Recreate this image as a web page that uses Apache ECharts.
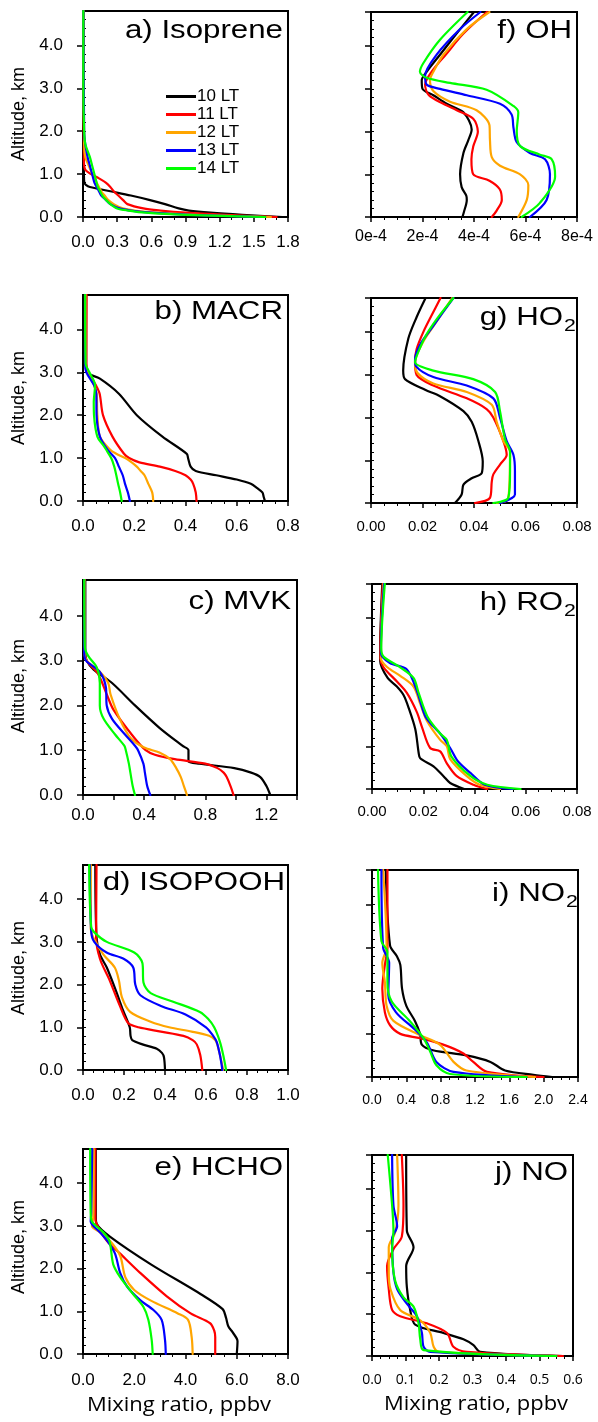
<!DOCTYPE html>
<html><head><meta charset="utf-8">
<script src="https://cdn.jsdelivr.net/npm/echarts@6/dist/echarts.min.js"></script>
<style>html,body{margin:0;padding:0;background:#fff}#c{width:598px;height:1422px}</style>
</head><body><div id="c"></div>
<script>
// ---------- DATA ----------
const seriesNames = ['10 LT', '11 LT', '12 LT', '13 LT', '14 LT'];
const seriesColors = ['#000000', '#ff0000', '#ffa500', '#0000ff', '#00ff00'];

// a) Isoprene (ppbv) — altitude (km) and mixing ratio per local time
const isopreneAlt = [
  [0, 0.05, 0.1, 0.15, 0.2, 0.3, 0.4, 0.5, 0.6, 0.7, 0.75, 0.8, 1.0, 2.0, 4.8],
  [0, 0.05, 0.1, 0.15, 0.2, 0.3, 0.4, 0.5, 0.6, 0.7, 0.8, 0.9, 1.0, 1.1, 1.3, 4.8],
  [0, 0.05, 0.1, 0.15, 0.2, 0.3, 0.4, 0.5, 0.6, 0.7, 0.8, 0.9, 1.0, 1.2, 1.4, 1.7, 4.8],
  [0, 0.05, 0.1, 0.15, 0.2, 0.3, 0.4, 0.5, 0.6, 0.7, 0.8, 0.9, 1.0, 1.2, 1.4, 1.7, 2.0, 4.8],
  [0, 0.05, 0.1, 0.15, 0.2, 0.3, 0.4, 0.5, 0.6, 0.7, 0.8, 0.9, 1.0, 1.2, 1.4, 1.7, 2.0, 3.0, 4.8]
];
const isopreneMix = [
  [1.75, 1.4, 1.12, 0.93, 0.84, 0.72, 0.58, 0.42, 0.24, 0.06, 0.025, 0.012, 0.008, 0.005, 0.003],
  [1.7, 1.25, 0.9, 0.68, 0.53, 0.39, 0.35, 0.31, 0.27, 0.24, 0.2, 0.14, 0.07, 0.02, 0.008, 0.004],
  [1.65, 1.0, 0.65, 0.45, 0.35, 0.27, 0.22, 0.19, 0.16, 0.14, 0.12, 0.1, 0.08, 0.05, 0.02, 0.01, 0.004],
  [1.6, 0.95, 0.6, 0.42, 0.32, 0.24, 0.2, 0.16, 0.14, 0.12, 0.1, 0.09, 0.08, 0.06, 0.04, 0.02, 0.01, 0.004],
  [1.6, 0.9, 0.55, 0.4, 0.3, 0.24, 0.2, 0.17, 0.15, 0.13, 0.12, 0.11, 0.1, 0.08, 0.06, 0.02, 0.01, 0.003, 0.003]
];

// b) MACR
const macrAlt = [
  [0, 0.1, 0.2, 0.3, 0.4, 0.5, 0.6, 0.7, 0.8, 1.0, 1.1, 1.5, 2.0, 2.5, 2.85, 3.0, 3.2, 4.8],
  [0, 0.2, 0.4, 0.5, 0.6, 0.7, 0.8, 0.9, 1.0, 1.1, 1.5, 2.0, 2.5, 2.7, 3.0, 3.2, 4.8],
  [0, 0.2, 0.4, 0.6, 0.7, 0.8, 0.9, 1.0, 1.1, 1.2, 1.5, 2.0, 2.5, 2.7, 3.0, 3.2, 4.8],
  [0, 0.2, 0.4, 0.6, 0.8, 1.0, 1.2, 1.5, 2.0, 2.5, 2.7, 3.0, 3.2, 4.8],
  [0, 0.2, 0.4, 0.6, 0.8, 1.0, 1.2, 1.3, 1.5, 2.0, 2.3, 2.7, 3.0, 3.2, 4.8]
];
const macrMix = [
  [0.71, 0.705, 0.70, 0.68, 0.655, 0.6, 0.52, 0.44, 0.42, 0.41, 0.405, 0.31, 0.21, 0.14, 0.066, 0.015, 0.012, 0.012],
  [0.443, 0.44, 0.43, 0.42, 0.40, 0.36, 0.30, 0.22, 0.18, 0.16, 0.115, 0.078, 0.065, 0.05, 0.021, 0.013, 0.014],
  [0.274, 0.27, 0.255, 0.24, 0.225, 0.21, 0.19, 0.165, 0.13, 0.105, 0.066, 0.056, 0.053, 0.043, 0.018, 0.01, 0.01],
  [0.183, 0.175, 0.164, 0.155, 0.14, 0.125, 0.095, 0.066, 0.053, 0.052, 0.043, 0.013, 0.008, 0.008],
  [0.151, 0.145, 0.137, 0.13, 0.122, 0.11, 0.09, 0.079, 0.056, 0.043, 0.042, 0.047, 0.025, 0.01, 0.008]
];

// c) MVK
const mvkAlt = [
  [0, 0.2, 0.4, 0.5, 0.6, 0.7, 0.75, 0.8, 1.0, 1.1, 1.5, 2.0, 2.5, 2.8, 3.0, 3.2, 4.8],
  [0, 0.2, 0.4, 0.5, 0.6, 0.7, 0.8, 0.9, 1.0, 1.3, 1.9, 2.25, 2.55, 2.75, 3.0, 3.2, 4.8],
  [0, 0.2, 0.4, 0.6, 0.8, 0.95, 1.06, 1.28, 1.7, 2.25, 2.5, 2.75, 3.0, 3.2, 4.8],
  [0, 0.2, 0.5, 0.7, 1.0, 1.1, 1.35, 1.7, 2.0, 2.4, 2.75, 3.0, 3.2, 4.8],
  [0, 0.2, 0.5, 0.7, 1.0, 1.1, 1.35, 1.7, 2.0, 2.5, 2.85, 3.1, 3.3, 4.8]
];
const mvkMix = [
  [1.225, 1.2, 1.16, 1.1, 0.99, 0.76, 0.69, 0.69, 0.69, 0.65, 0.5, 0.34, 0.19, 0.07, 0.024, 0.015, 0.015],
  [0.985, 0.965, 0.94, 0.92, 0.88, 0.8, 0.6, 0.47, 0.41, 0.33, 0.2, 0.155, 0.12, 0.09, 0.024, 0.012, 0.012],
  [0.68, 0.66, 0.64, 0.61, 0.57, 0.5, 0.4, 0.31, 0.24, 0.18, 0.165, 0.11, 0.024, 0.01, 0.01],
  [0.44, 0.42, 0.405, 0.395, 0.36, 0.34, 0.275, 0.19, 0.155, 0.15, 0.11, 0.02, 0.008, 0.008],
  [0.34, 0.325, 0.31, 0.3, 0.28, 0.27, 0.21, 0.135, 0.11, 0.11, 0.09, 0.035, 0.012, 0.008]
];

// d) ISOPOOH
const isopoohAlt = [
  [0, 0.3, 0.4, 0.5, 0.6, 0.7, 0.8, 1.0, 1.4, 1.8, 2.4, 2.7, 3.1, 4.8],
  [0, 0.35, 0.6, 0.7, 0.8, 0.9, 1.0, 1.1, 1.5, 2.1, 2.6, 3.1, 4.8],
  [0, 0.35, 0.6, 0.7, 0.8, 0.9, 1.0, 1.13, 1.36, 1.7, 2.1, 2.4, 2.7, 3.1, 3.3, 4.8],
  [0, 0.35, 0.66, 0.8, 1.0, 1.3, 1.5, 1.75, 2.0, 2.4, 2.6, 2.75, 3.0, 3.25, 4.8],
  [0, 0.35, 0.66, 1.0, 1.2, 1.36, 1.6, 1.8, 2.05, 2.5, 2.75, 3.0, 3.2, 3.35, 4.8]
];
const isopoohMix = [
  [0.4, 0.395, 0.385, 0.36, 0.29, 0.24, 0.232, 0.228, 0.195, 0.165, 0.116, 0.083, 0.066, 0.06],
  [0.582, 0.572, 0.555, 0.535, 0.49, 0.38, 0.27, 0.22, 0.18, 0.13, 0.083, 0.064, 0.066],
  [0.684, 0.668, 0.655, 0.645, 0.615, 0.53, 0.42, 0.33, 0.23, 0.19, 0.175, 0.155, 0.1, 0.05, 0.038, 0.038],
  [0.68, 0.668, 0.652, 0.635, 0.6, 0.5, 0.38, 0.28, 0.255, 0.245, 0.2, 0.115, 0.055, 0.04, 0.033],
  [0.698, 0.684, 0.668, 0.64, 0.61, 0.57, 0.44, 0.33, 0.295, 0.29, 0.25, 0.116, 0.06, 0.04, 0.03]
];

// e) HCHO
const hchoAlt = [
  [0, 0.3, 0.5, 0.65, 0.85, 1.05, 1.4, 2.1, 2.75, 3.05, 3.2, 4.8],
  [0, 0.4, 0.55, 0.72, 0.95, 1.35, 1.9, 2.35, 2.65, 3.05, 3.2, 4.8],
  [0, 0.4, 0.8, 0.95, 1.25, 1.5, 1.8, 2.3, 2.65, 2.85, 3.0, 3.2, 4.8],
  [0, 0.33, 0.8, 1.03, 1.26, 1.58, 1.9, 2.35, 2.65, 2.85, 3.1, 3.3, 4.8],
  [0, 0.33, 0.8, 1.1, 1.4, 1.8, 2.1, 2.65, 2.85, 3.1, 3.3, 4.8]
];
const hchoMix = [
  [6.0, 6.03, 5.85, 5.67, 5.58, 5.45, 4.6, 2.65, 1.05, 0.53, 0.5, 0.5],
  [5.16, 5.16, 5.12, 4.96, 4.2, 3.27, 2.23, 1.45, 0.93, 0.53, 0.48, 0.48],
  [4.28, 4.24, 4.1, 3.7, 2.65, 2.0, 1.65, 1.45, 1.05, 0.66, 0.35, 0.4, 0.42],
  [3.23, 3.2, 3.07, 2.75, 2.23, 1.72, 1.45, 1.25, 0.95, 0.66, 0.3, 0.32, 0.36],
  [2.72, 2.68, 2.55, 2.36, 1.96, 1.45, 1.18, 1.03, 0.79, 0.35, 0.3, 0.28]
];

// f) OH (in units of 1e-4 ppbv)
const ohAlt = [
  [0, 0.1, 0.4, 0.5, 0.7, 1.0, 1.5, 1.8, 2.05, 2.45, 2.65, 2.85, 3.0, 3.2, 3.4, 3.8, 4.3, 4.8],
  [0, 0.15, 0.4, 0.65, 0.85, 1.0, 1.35, 1.65, 2.0, 2.3, 2.5, 2.65, 2.85, 3.1, 3.4, 3.8, 4.3, 4.8],
  [0, 0.4, 0.75, 1.0, 1.2, 1.4, 1.8, 2.15, 2.5, 2.7, 2.95, 3.2, 3.4, 3.8, 4.4, 4.8],
  [0, 0.4, 1.0, 1.35, 1.5, 1.75, 2.1, 2.4, 2.65, 2.85, 3.0, 3.1, 3.3, 3.8, 4.4, 4.8],
  [0, 0.33, 0.95, 1.35, 1.46, 1.66, 2.0, 2.45, 2.6, 2.98, 3.14, 3.26, 3.4, 3.6, 4.15, 4.8]
];
const ohMixE4 = [
  [3.55, 3.6, 3.72, 3.7, 3.52, 3.46, 3.59, 3.78, 3.91, 3.59, 2.94, 2.42, 2.0, 1.97, 2.16, 2.68, 3.33, 4.0],
  [4.69, 4.88, 5.08, 5.0, 4.6, 3.97, 3.9, 3.97, 4.15, 3.97, 3.33, 2.81, 2.25, 2.1, 2.35, 2.9, 3.6, 4.5],
  [5.72, 6.05, 6.11, 5.79, 5.01, 4.69, 4.62, 4.6, 4.1, 3.07, 2.42, 2.29, 2.42, 2.81, 3.72, 4.6],
  [6.17, 6.82, 6.95, 6.76, 6.17, 5.66, 5.53, 5.46, 5.01, 3.72, 2.68, 2.16, 2.1, 2.55, 3.46, 4.25],
  [5.85, 6.56, 7.15, 7.02, 6.56, 5.79, 5.66, 5.72, 5.53, 4.49, 3.07, 2.16, 1.9, 2.03, 2.68, 3.75]
];

// g) HO2
const ho2Alt = [
  [0, 0.2, 0.43, 0.58, 0.7, 0.97, 1.45, 1.9, 2.15, 2.5, 2.65, 2.9, 3.1, 3.85, 4.35, 4.8],
  [0, 0.12, 0.5, 0.67, 0.9, 1.13, 1.45, 2.0, 2.2, 2.45, 2.75, 3.0, 3.3, 3.6, 4.0, 4.4, 4.8],
  [0, 0.1, 1.2, 1.45, 1.9, 2.3, 2.6, 2.8, 3.05, 3.3, 3.8, 4.25, 4.8],
  [0, 0.2, 0.75, 1.13, 1.45, 2.0, 2.45, 2.75, 2.95, 3.2, 3.35, 3.7, 4.15, 4.8],
  [0, 0.12, 0.75, 1.2, 1.5, 2.15, 2.6, 2.9, 3.1, 3.3, 3.63, 3.95, 4.35, 4.8]
];
const ho2Mix = [
  [0.0326, 0.0352, 0.0359, 0.0391, 0.043, 0.0434, 0.0417, 0.0391, 0.0359, 0.0268, 0.021, 0.0132, 0.0125, 0.0145, 0.0177, 0.0212],
  [0.0404, 0.0462, 0.0469, 0.0475, 0.0501, 0.0527, 0.0514, 0.0475, 0.0449, 0.0372, 0.0242, 0.0177, 0.0171, 0.0177, 0.0203, 0.0236, 0.027],
  [0.0488, 0.0533, 0.054, 0.0514, 0.0488, 0.0469, 0.0372, 0.0242, 0.018, 0.0171, 0.0205, 0.0255, 0.0315],
  [0.0501, 0.0559, 0.0559, 0.0553, 0.0527, 0.0501, 0.0475, 0.0372, 0.0242, 0.0175, 0.0171, 0.019, 0.0242, 0.032],
  [0.0475, 0.0533, 0.054, 0.054, 0.052, 0.0501, 0.0482, 0.0397, 0.0242, 0.0171, 0.019, 0.0216, 0.0261, 0.032]
];

// h) RO2
const ro2Alt = [
  [0, 0.14, 0.3, 0.53, 0.72, 0.85, 1.4, 1.9, 2.2, 2.4, 2.6, 3.0, 3.3, 4.8],
  [0, 0.1, 0.3, 0.6, 0.88, 0.96, 1.45, 1.8, 2.25, 2.5, 2.85, 3.05, 3.3, 4.8],
  [0, 0.1, 0.3, 0.7, 1.0, 1.15, 1.6, 2.0, 2.4, 2.65, 2.85, 3.05, 3.3, 4.8],
  [0, 0.1, 0.37, 0.65, 0.96, 1.3, 1.46, 1.7, 2.3, 2.8, 2.95, 3.18, 3.35, 4.8],
  [0, 0.1, 0.3, 0.76, 1.15, 1.3, 1.7, 2.25, 2.6, 2.85, 3.1, 3.3, 4.8]
];
const ro2Mix = [
  [0.036, 0.0305, 0.0279, 0.024, 0.0188, 0.0182, 0.0169, 0.0143, 0.0123, 0.0097, 0.0061, 0.0032, 0.0032, 0.004],
  [0.045, 0.0396, 0.0331, 0.0292, 0.0266, 0.0227, 0.0195, 0.0175, 0.0136, 0.01, 0.0045, 0.0033, 0.0033, 0.0042],
  [0.05, 0.042, 0.037, 0.0305, 0.0292, 0.0266, 0.0214, 0.0188, 0.0162, 0.011, 0.006, 0.0035, 0.0035, 0.0045],
  [0.055, 0.044, 0.0385, 0.0335, 0.0305, 0.0266, 0.024, 0.0208, 0.0175, 0.0136, 0.007, 0.0035, 0.0035, 0.0047],
  [0.058, 0.045, 0.0385, 0.031, 0.0292, 0.0266, 0.0216, 0.0182, 0.0162, 0.011, 0.0045, 0.0036, 0.005]
];

// i) NO2
const no2Alt = [
  [0, 0.05, 0.15, 0.35, 0.5, 0.62, 0.75, 1.0, 1.3, 1.65, 2.05, 2.6, 2.8, 3.05, 4.8],
  [0, 0.12, 0.35, 0.55, 0.75, 0.9, 1.0, 1.2, 1.5, 2.05, 2.6, 3.0, 4.8],
  [0, 0.15, 0.35, 0.75, 0.97, 1.3, 1.65, 2.2, 2.65, 3.0, 4.8],
  [0, 0.12, 0.35, 0.8, 1.1, 1.5, 1.9, 2.65, 3.0, 4.8],
  [0, 0.07, 0.27, 0.58, 0.9, 1.3, 1.75, 2.2, 2.9, 3.15, 4.8]
];
const no2Mix = [
  [2.1, 1.88, 1.55, 1.38, 1.1, 0.71, 0.58, 0.56, 0.5, 0.4, 0.35, 0.33, 0.29, 0.21, 0.16],
  [2.0, 1.34, 1.18, 1.06, 0.83, 0.56, 0.33, 0.21, 0.15, 0.12, 0.15, 0.18, 0.18],
  [1.9, 1.1, 0.95, 0.79, 0.56, 0.25, 0.17, 0.15, 0.12, 0.17, 0.13],
  [1.8, 0.95, 0.75, 0.64, 0.5, 0.28, 0.19, 0.2, 0.13, 0.11],
  [1.8, 0.91, 0.75, 0.68, 0.6, 0.44, 0.23, 0.18, 0.18, 0.11, 0.07]
];

// j) NO
const noAlt = [
  [0, 0.1, 0.26, 0.4, 0.55, 0.75, 1.1, 1.65, 2.15, 2.6, 3.0, 4.8],
  [0, 0.1, 0.22, 0.55, 0.78, 0.95, 1.1, 1.6, 2.15, 2.55, 2.85, 3.6, 4.8],
  [0, 0.1, 0.22, 0.55, 0.85, 1.1, 1.6, 2.0, 2.6, 2.95, 3.6, 4.8],
  [0, 0.1, 0.22, 0.55, 0.95, 1.25, 1.6, 2.0, 2.8, 3.1, 3.6, 4.8],
  [0, 0.14, 0.4, 0.78, 1.18, 1.4, 1.8, 2.55, 3.0, 3.6, 4.8]
];
const noMix = [
  [0.57, 0.323, 0.303, 0.273, 0.213, 0.129, 0.114, 0.104, 0.102, 0.124, 0.104, 0.102],
  [0.57, 0.283, 0.243, 0.224, 0.164, 0.084, 0.06, 0.05, 0.045, 0.064, 0.089, 0.094, 0.089],
  [0.55, 0.2, 0.184, 0.174, 0.144, 0.084, 0.055, 0.05, 0.05, 0.069, 0.079, 0.075],
  [0.55, 0.174, 0.154, 0.149, 0.134, 0.104, 0.075, 0.064, 0.06, 0.075, 0.064, 0.06],
  [0.55, 0.154, 0.144, 0.139, 0.124, 0.094, 0.069, 0.06, 0.064, 0.06, 0.047]
];

// ---------- LAYOUT ----------
const FONT = "'Liberation Sans', Arial, sans-serif";
const f1 = v => v.toFixed(1);
const f2 = v => v.toFixed(2);
const panels = [
  {title: 'a) Isoprene', alt: isopreneAlt, mix: isopreneMix, left: 83, top: 11, width: 205, height: 206, xMax: 1.8, xStep: 0.3, minor: 3, fmt: f1, font: 17, margin: 17, tx: 283, ty: 31, yLab: true, yName: 114},
  {title: 'b) MACR', alt: macrAlt, mix: macrMix, left: 83, top: 295, width: 205, height: 206, xMax: 0.8, xStep: 0.2, minor: 4, fmt: f1, font: 17, margin: 17, tx: 283, ty: 312, yLab: true, yName: 398},
  {title: 'c) MVK', alt: mvkAlt, mix: mvkMix, left: 83, top: 580, width: 214, height: 215, xMax: 1.4, xStep: 0.2, minor: 0, fmt: v => (Math.round(v * 10) % 4 === 0 ? v.toFixed(1) : ''), font: 17, margin: 12, tx: 291, ty: 602, yLab: true, yName: 686},
  {title: 'd) ISOPOOH', alt: isopoohAlt, mix: isopoohMix, left: 83, top: 865, width: 205, height: 205, xMax: 1.0, xStep: 0.2, minor: 4, fmt: f1, font: 17, margin: 17, tx: 285, ty: 883, yLab: true, yName: 968},
  {title: 'e) HCHO', alt: hchoAlt, mix: hchoMix, left: 83, top: 1149, width: 205, height: 205, xMax: 8, xStep: 2, minor: 4, fmt: f1, font: 17, margin: 18, tx: 283, ty: 1168, yLab: true, yName: 1247},
  {title: 'f) OH', alt: ohAlt, mix: ohMixE4, left: 371, top: 12, width: 206, height: 205, xMax: 8, xStep: 2, minor: 4, fmt: v => Math.round(v) + 'e-4', font: 16, margin: 12, tx: 572, ty: 31},
  {title: 'g) HO', sub: '2', alt: ho2Alt, mix: ho2Mix, left: 371, top: 298, width: 206, height: 205, xMax: 0.08, xStep: 0.02, minor: 4, fmt: f2, font: 15, margin: 16, tx: 563, ty: 318},
  {title: 'h) RO', sub: '2', alt: ro2Alt, mix: ro2Mix, left: 372, top: 584, width: 205, height: 205, xMax: 0.08, xStep: 0.02, minor: 4, fmt: f2, font: 15, margin: 15, tx: 563, ty: 603},
  {title: 'i) NO', sub: '2', alt: no2Alt, mix: no2Mix, left: 372, top: 870, width: 206, height: 207, xMax: 2.4, xStep: 0.4, minor: 4, fmt: f1, font: 14, margin: 16, tx: 565, ty: 894},
  {title: 'j) NO', alt: noAlt, mix: noMix, left: 372, top: 1155, width: 201, height: 201, xMax: 0.6, xStep: 0.1, minor: 4, fmt: f1, font: 14, margin: 17, tx: 568, ty: 1173, labFont: "'Open Sans', sans-serif"}
];

const grid = [], xAxis = [], yAxis = [], series = [], graphic = [];
const black = {color: '#000', width: 2};
panels.forEach((p, i) => {
  grid.push({left: p.left, top: p.top, width: p.width, height: p.height, show: true, borderColor: '#000', borderWidth: 2, backgroundColor: 'transparent', containLabel: false, outerBoundsMode: 'none'});
  xAxis.push({
    gridIndex: i, type: 'value', min: 0, max: p.xMax, interval: p.xStep,
    axisLine: {show: true, onZero: false, lineStyle: black},
    axisTick: {show: true, length: 5, lineStyle: {color: '#000', width: 1.5}},
    minorTick: {show: p.minor > 0, splitNumber: p.minor || 2, length: 3, lineStyle: {color: '#000', width: 1}},
    splitLine: {show: false}, minorSplitLine: {show: false},
    axisLabel: {color: '#000', fontFamily: p.labFont || FONT, fontSize: p.font, margin: p.margin, formatter: p.fmt, showMinLabel: true, showMaxLabel: true}
  });
  yAxis.push({
    gridIndex: i, type: 'value', min: 0, max: 4.8, interval: 1,
    axisLine: {show: true, onZero: false, lineStyle: black},
    axisTick: {show: true, length: 6, lineStyle: {color: '#000', width: 1.5}},
    splitLine: {show: false},
    axisLabel: {show: !!p.yLab, color: '#000', fontFamily: FONT, fontSize: 17, margin: 20, formatter: f1, showMaxLabel: false}
  });
  yAxis.push({
    gridIndex: i, type: 'value', min: 0, max: 4.8, interval: 0.2,
    axisLine: {show: false}, axisTick: {show: true, length: 3, lineStyle: {color: '#000', width: 1}},
    splitLine: {show: false}, axisLabel: {show: false}
  });
  p.mix.forEach((vals, k) => {
    series.push({
      name: seriesNames[k], type: 'line', xAxisIndex: i, yAxisIndex: 2 * i,
      data: vals.map((v, j) => [v, p.alt[k][j]]),
      showSymbol: false, symbol: 'none', smooth: 0.3,
      lineStyle: {color: seriesColors[k], width: 2.2, join: 'round', cap: 'round'}, itemStyle: {color: seriesColors[k]},
      silent: true, animation: false, z: 2 + k
    });
  });
  graphic.push({type: 'text', x: p.tx, y: p.ty, scaleX: 1.25, silent: true,
    style: {text: p.title, fontFamily: FONT, fontSize: 25, fill: '#000', align: 'right', verticalAlign: 'middle'}});
  if (p.sub) {
    graphic.push({type: 'text', x: p.tx + 1, y: p.ty + 8, scaleX: 1.25, silent: true,
      style: {text: p.sub, fontFamily: FONT, fontSize: 17, fill: '#000', align: 'left', verticalAlign: 'middle'}});
  }
  if (p.yLab) {
    graphic.push({type: 'text', x: 19, y: p.yName, rotation: Math.PI / 2, silent: true,
      style: {text: 'Altitude, km', fontFamily: FONT, fontSize: 18, fill: '#000', align: 'center', verticalAlign: 'middle'}});
  }
});
graphic.push({type: 'text', x: 179, y: 1405, scaleX: 1.1, silent: true,
  style: {text: 'Mixing ratio, ppbv', fontFamily: "'Open Sans', sans-serif", fontSize: 20, fill: '#000', align: 'center', verticalAlign: 'middle'}});
graphic.push({type: 'text', x: 476, y: 1404, scaleX: 1.1, silent: true,
  style: {text: 'Mixing ratio, ppbv', fontFamily: "'Open Sans', sans-serif", fontSize: 20, fill: '#000', align: 'center', verticalAlign: 'middle'}});

const chart = echarts.init(document.getElementById('c'), null, {renderer: 'canvas'});
chart.setOption({
  animation: false,
  backgroundColor: '#fff',
  legend: {
    data: seriesNames, orient: 'vertical', left: 166, top: 88, padding: 0,
    icon: 'rect', itemWidth: 30, itemHeight: 3, itemGap: 1, selectedMode: false,
    textStyle: {color: '#000', fontFamily: FONT, fontSize: 17, lineHeight: 17, padding: [0, 0, 0, -4]}
  },
  grid, xAxis, yAxis, series, graphic
});
</script></body></html>
